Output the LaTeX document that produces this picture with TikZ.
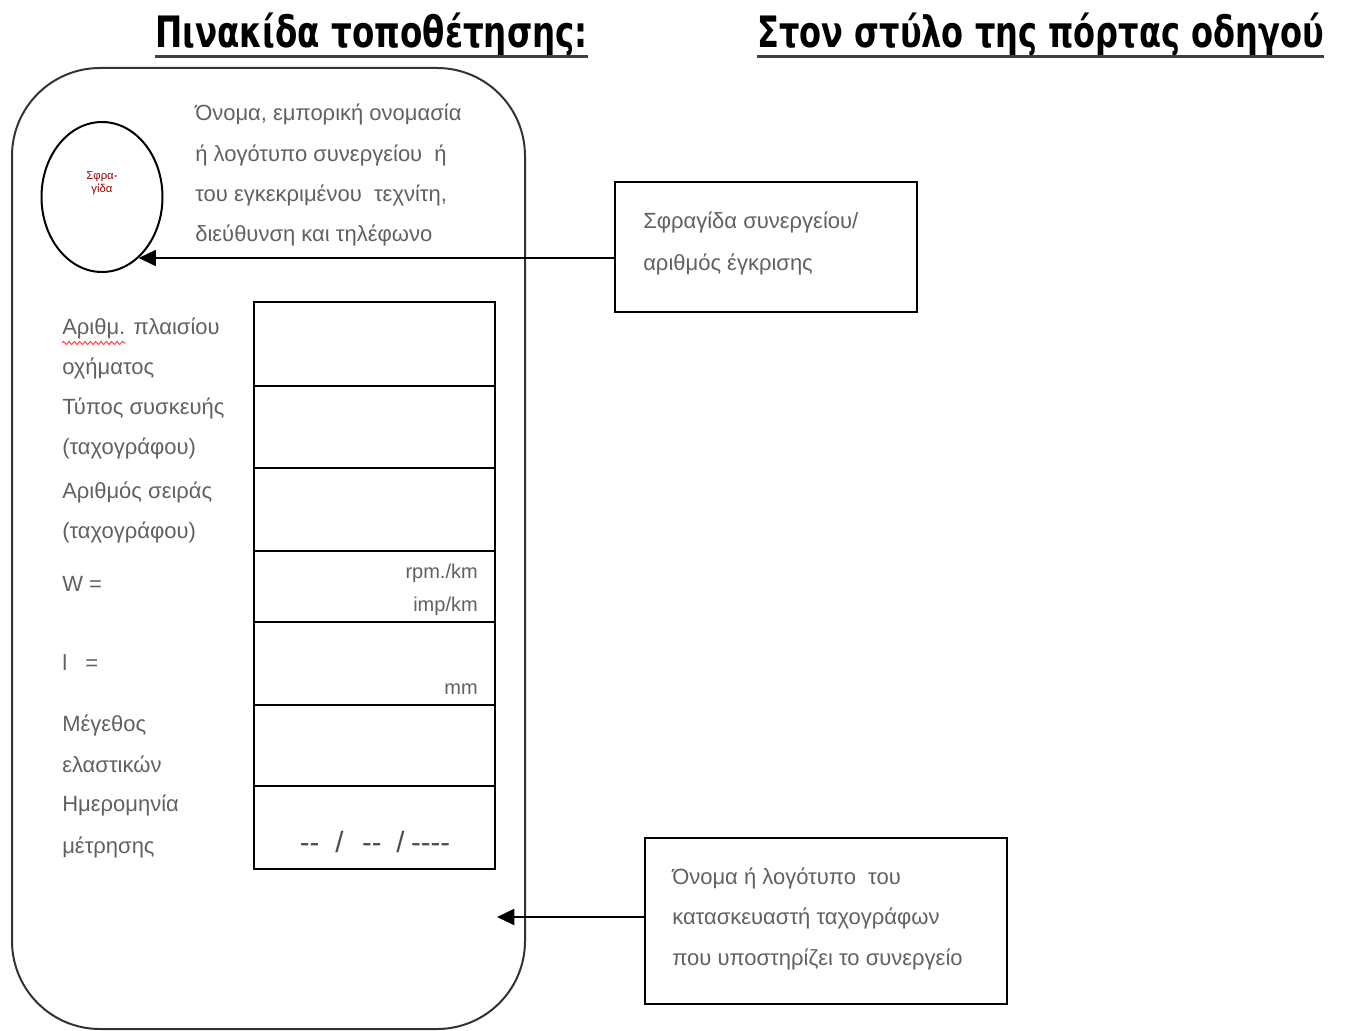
\documentclass[tikz,border=0pt]{standalone}
\usepackage{fontspec}
\setmainfont{Liberation Sans}
\newfontfamily\titlefont{DejaVu Sans}
\usetikzlibrary{arrows.meta,shapes.geometric,decorations.pathmorphing}
\begin{document}
\begin{tikzpicture}[x=0.75pt,y=-0.75pt,
  lbl/.style={anchor=base west,inner sep=0pt,text=black!62,font=\fontsize{16.5}{20}\selectfont},
  small/.style={anchor=base east,inner sep=0pt,text=black!62,font=\fontsize{15}{18}\selectfont},
  ttl/.style={anchor=base west,inner sep=0pt,font=\titlefont\bfseries\fontsize{24.4}{28}\selectfont},
  cell/.style={draw,line width=1.5pt,minimum width=180.75pt,anchor=north west,inner sep=0pt},
  callout/.style={draw,line width=1.4pt,anchor=north west,inner sep=0pt},
  arr/.style={line width=1.6pt,-{Triangle[length=13pt,width=12pt]}}]
\useasboundingbox (0,0) rectangle (1349,1031);
\fill[white] (0,0) rectangle (1349,1031);

% titles
\node[ttl] (title1) at (155,48) {\scalebox{1}[1.33]{Πινακίδα τοποθέτησης:}};
\node[ttl] (title2) at (757,48) {\scalebox{0.985}[1.33]{Στον στύλο της πόρτας οδηγού}};
\draw[line width=2pt,black!75] ([yshift=-6.5pt]title1.base west) -- ([yshift=-6.5pt]title1.base east);
\draw[line width=2pt,black!75] ([yshift=-6.5pt]title2.base west) -- ([yshift=-6.5pt]title2.base east);

% plate outline
\draw[line width=1.5pt,black!80,rounded corners=66pt] (12,68) rectangle (525,1029);

% seal
\node[ellipse,draw,line width=1.5pt,minimum width=90.75pt,minimum height=112.5pt,inner sep=0pt] (seal) at (102,197) {};
\node[align=center,inner sep=0pt,text=red!60!black,font=\fontsize{8.5}{9.5}\selectfont] (sealtxt) at (102,183) {Σφρα-\\γίδα};

% info text
\node[lbl] (i1) at (195,120) {Όνομα, εμπορική ονομασία};
\node[lbl] (i2) at (195,161) {ή λογότυπο συνεργείου~~ή};
\node[lbl] (i3) at (195,201) {του εγκεκριμένου~~τεχνίτη,};
\node[lbl] (i4) at (195,241) {διεύθυνση και τηλέφωνο};

% table rows
\node[cell,minimum height=63pt] (r1) at (253,301) {};
\node[cell,minimum height=61.5pt] (r2) at (253,385) {};
\node[cell,minimum height=62.25pt] (r3) at (253,467) {};
\node[cell,minimum height=53.25pt] (r4) at (253,550) {};
\node[cell,minimum height=62.25pt] (r5) at (253,621) {};
\node[cell,minimum height=60.75pt] (r6) at (253,704) {};
\node[cell,minimum height=62.25pt] (r7) at (253,785) {};

% left labels
\node[lbl] (l1) at (62,334) {Αριθμ. πλαισίου};
\draw[red!85,line width=0.6pt,decorate,decoration={snake,amplitude=1.2pt,segment length=4pt}] (62,343) -- (126,343);
\node[lbl] (l2) at (62,374) {οχήματος};
\node[lbl] (l3) at (62,414) {Τύπος συσκευής};
\node[lbl] (l4) at (62,454) {(ταχογράφου)};
\node[lbl] (l5) at (62,498) {Αριθμός σειράς};
\node[lbl] (l6) at (62,538) {(ταχογράφου)};
\node[lbl] (l7) at (62,591) {W =};
\node[lbl] (l8) at (62,670) {l~~~=};
\node[lbl] (l9) at (62,731) {Μέγεθος};
\node[lbl] (l10) at (62,772) {ελαστικών};
\node[lbl] (l11) at (62,811) {Ημερομηνία};
\node[lbl] (l12) at (62,853) {μέτρησης};

% units in table
\node[small] (u1) at (478,578) {rpm./km};
\node[small] (u2) at (478,611) {imp/km};
\node[small] (u3) at (478,694) {mm};
\node[anchor=base,inner sep=0pt,text=black!70,font=\fontsize{22}{24}\selectfont] (date) at (375,852)
  {-{}-\hspace{12pt}/\hspace{14pt}-{}-\hspace{11pt}/\hspace{5pt}-{}-{}-{}-};

% callout boxes
\node[callout,minimum width=226.5pt,minimum height=97.5pt] (box1) at (614,181) {};
\node[lbl] (b1a) at (643,228) {Σφραγίδα συνεργείου/};
\node[lbl] (b1b) at (643,270) {αριθμός έγκρισης};

\node[callout,minimum width=271.5pt,minimum height=124.5pt] (box2) at (644,837) {};
\node[lbl] (b2a) at (672,884) {Όνομα ή λογότυπο~~του};
\node[lbl] (b2b) at (672,924) {κατασκευαστή ταχογράφων};
\node[lbl] (b2c) at (672,965) {που υποστηρίζει το συνεργείο};

% arrows
\draw[arr] (box1.west |- seal.-59) -- (seal.-59);
\coordinate (a2end) at (497,917);
\draw[arr] (box2.west |- a2end) -- (a2end);
\end{tikzpicture}
\end{document}
